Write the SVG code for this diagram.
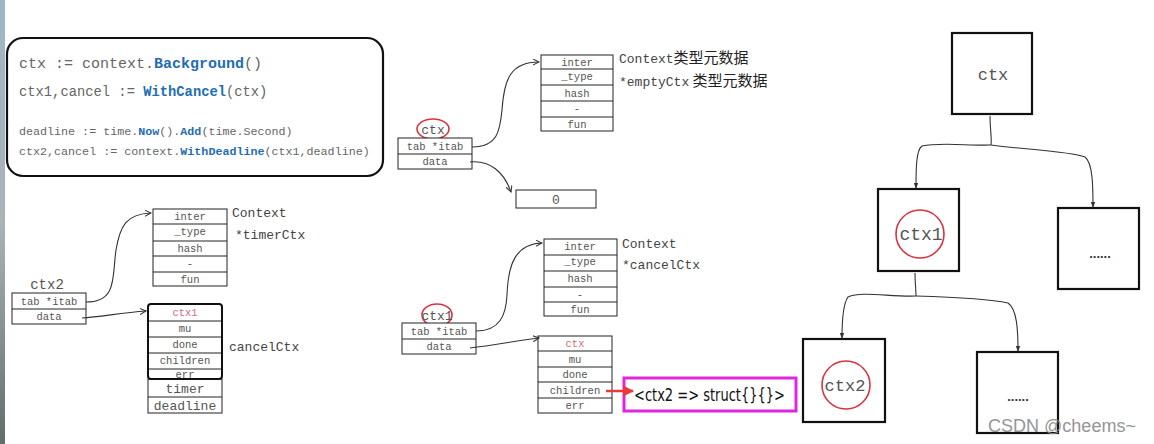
<svg xmlns="http://www.w3.org/2000/svg" width="1154" height="444" viewBox="0 0 1154 444">
<style>
.mono{font-family:"Liberation Mono","DejaVu Sans Mono",monospace;fill:#555}
.code{font-family:"Liberation Mono","DejaVu Sans Mono",monospace;fill:#666}
.kw{fill:#1f6db3;font-weight:bold}
.f{font-family:"Liberation Mono","DejaVu Sans Mono",monospace;fill:#555;font-size:10.5px;text-anchor:middle}
.lbl{font-family:"Liberation Mono","DejaVu Sans Mono",monospace;fill:#444;font-size:13px}
.cjk{font-family:"Noto Sans CJK SC",sans-serif;fill:#222;font-size:15px}
.tbl{fill:#fff;stroke:#222;stroke-width:1}
.div{stroke:#222;stroke-width:1;fill:none}
.conn{fill:none;stroke:#333;stroke-width:1.1}
.box{fill:#fff;stroke:#111;stroke-width:2.2}
.ring{fill:none;stroke:#d8343f;stroke-width:1.6}
.big{font-family:"Liberation Mono","DejaVu Sans Mono",monospace;fill:#555;text-anchor:middle}
.dots{font-family:"Liberation Sans",sans-serif;font-weight:bold;fill:#333;font-size:13px;text-anchor:middle}
</style>
<defs>
<linearGradient id="strip" x1="0" y1="0" x2="0" y2="1">
<stop offset="0" stop-color="#9fb6c6"/>
<stop offset="0.5" stop-color="#a9b4b8"/>
<stop offset="1" stop-color="#5f6f6a"/>
</linearGradient>
<marker id="arr" viewBox="0 0 8 8" refX="7" refY="4" markerWidth="7" markerHeight="7" markerUnits="userSpaceOnUse" orient="auto">
<path d="M0,0.5 L7,4 L0,7.5" fill="none" stroke="#333" stroke-width="1.2"/>
</marker>
<marker id="tri" viewBox="0 0 8 8" refX="7" refY="4" markerWidth="6" markerHeight="6" markerUnits="userSpaceOnUse" orient="auto">
<path d="M0,1 L8,4 L0,7 Z" fill="#333"/>
</marker>
<marker id="red" viewBox="0 0 10 10" refX="9" refY="5" markerWidth="11" markerHeight="11" markerUnits="userSpaceOnUse" orient="auto">
<path d="M0,0 L10,5 L0,10 Z" fill="#e83a3a"/>
</marker>
</defs>
<rect x="0" y="0" width="1154" height="444" fill="#fff"/>
<rect x="0" y="0" width="5" height="444" fill="url(#strip)"/>

<g id="code">
<rect x="7" y="38" width="376" height="138" rx="16" fill="#fff" stroke="#111" stroke-width="2.2"/>
<text class="code" x="19" y="68" font-size="15">ctx := context.<tspan class="kw">Background</tspan>()</text>
<text class="code" x="19" y="96" font-size="13.8">ctx1,cancel := <tspan class="kw">WithCancel</tspan>(ctx)</text>
<text class="code" x="19" y="135" font-size="11.7">deadline := time.<tspan class="kw">Now</tspan>().<tspan class="kw">Add</tspan>(time.Second)</text>
<text class="code" x="19" y="155" font-size="11.7">ctx2,cancel := context.<tspan class="kw">WithDeadline</tspan>(ctx1,deadline)</text>
</g>

<!-- left: ctx2 -->
<g id="ctx2-iface">
<text class="mono" x="47" y="289" font-size="14" text-anchor="middle">ctx2</text>
<rect class="tbl" x="12" y="293" width="74" height="31"/>
<line class="div" x1="12" y1="309" x2="86" y2="309"/>
<text class="f" x="49" y="304.5">tab *itab</text>
<text class="f" x="49" y="320">data</text>
</g>
<g id="timer-itab">
<rect class="tbl" x="153" y="209" width="74" height="77"/>
<path class="div" d="M153,224H227M153,241H227M153,256H227M153,272H227"/>
<text class="f" x="190" y="220">inter</text>
<text class="f" x="190" y="235">_type</text>
<text class="f" x="190" y="252">hash</text>
<text class="f" x="190" y="267">-</text>
<text class="f" x="190" y="283">fun</text>
<text class="lbl" x="232" y="217">Context</text>
<text class="lbl" x="235" y="239">*timerCtx</text>
</g>
<g id="timerCtx">
<rect x="148" y="379" width="74" height="34" class="tbl"/>
<line class="div" x1="148" y1="397" x2="222" y2="397"/>
<text class="big" x="185" y="393" font-size="13">timer</text>
<text class="big" x="185" y="410" font-size="13">deadline</text>
<rect x="148" y="304" width="74" height="75" rx="3" fill="#fff" stroke="#111" stroke-width="2"/>
<path class="div" d="M149,321H221M149,337H221M149,353H221M149,369H221"/>
<text class="f" x="185" y="316" style="fill:#d46a7c">ctx1</text>
<text class="f" x="185" y="332">mu</text>
<text class="f" x="185" y="348">done</text>
<text class="f" x="185" y="364">children</text>
<text class="f" x="185" y="378">err</text>
<text class="lbl" x="229" y="351" font-size="13.5">cancelCtx</text>
</g>

<!-- middle top: ctx -->
<g id="ctx-iface">
<ellipse class="ring" cx="433" cy="129" rx="16" ry="10"/>
<text class="mono" x="433" y="133.5" font-size="13" text-anchor="middle">ctx</text>
<rect class="tbl" x="398" y="138" width="74" height="31"/>
<line class="div" x1="398" y1="154" x2="472" y2="154"/>
<text class="f" x="435" y="149.5">tab *itab</text>
<text class="f" x="435" y="165">data</text>
</g>
<g id="empty-itab">
<rect class="tbl" x="541" y="55" width="72" height="76"/>
<path class="div" d="M541,69H613M541,85H613M541,101H613M541,117H613"/>
<text class="f" x="577" y="65.5">inter</text>
<text class="f" x="577" y="80">_type</text>
<text class="f" x="577" y="96.5">hash</text>
<text class="f" x="577" y="112">-</text>
<text class="f" x="577" y="127.5">fun</text>
<text class="lbl" x="619" y="63">Context<tspan class="cjk">类型元数据</tspan></text>
<text class="lbl" x="619" y="86">*emptyCtx<tspan class="cjk"> 类型元数据</tspan></text>
</g>
<g id="empty-data">
<rect class="tbl" x="516" y="190" width="80" height="18"/>
<text class="mono" x="556" y="204" font-size="13" text-anchor="middle">0</text>
</g>

<!-- middle bottom: ctx1 -->
<g id="ctx1-iface">
<ellipse class="ring" cx="437" cy="315" rx="15" ry="11"/>
<text class="mono" x="437" y="320" font-size="13" text-anchor="middle">ctx1</text>
<rect class="tbl" x="402" y="323" width="74" height="31"/>
<line class="div" x1="402" y1="339" x2="476" y2="339"/>
<text class="f" x="439" y="334.5">tab *itab</text>
<text class="f" x="439" y="350">data</text>
</g>
<g id="cancel-itab">
<rect class="tbl" x="544" y="239" width="73" height="77"/>
<path class="div" d="M544,255H617M544,271H617M544,287H617M544,302H617"/>
<text class="f" x="580" y="250">inter</text>
<text class="f" x="580" y="265">_type</text>
<text class="f" x="580" y="282">hash</text>
<text class="f" x="580" y="297.5">-</text>
<text class="f" x="580" y="312.5">fun</text>
<text class="lbl" x="622" y="248">Context</text>
<text class="lbl" x="622" y="269">*cancelCtx</text>
</g>
<g id="cancelCtx">
<rect class="tbl" x="538" y="336" width="74" height="77"/>
<path class="div" d="M538,351H612M538,367H612M538,382H612M538,398H612"/>
<text class="f" x="575" y="347" style="fill:#d46a7c">ctx</text>
<text class="f" x="575" y="362.5">mu</text>
<text class="f" x="575" y="378">done</text>
<text class="f" x="575" y="393.5">children</text>
<text class="f" x="575" y="409">err</text>
</g>
<g id="children-map">
<rect x="624" y="378" width="172" height="33" fill="#fff" stroke="#e024e0" stroke-width="3"/>
<text x="634" y="401" font-family="DejaVu Sans Condensed, DejaVu Sans, sans-serif" font-size="17" fill="#111" textLength="151" lengthAdjust="spacingAndGlyphs">&lt;ctx2 =&gt; struct{}{}&gt;</text>
</g>

<!-- tree -->
<g id="tree-ctx">
<rect class="box" x="952" y="33" width="80" height="81"/>
<text class="big" x="993" y="80" font-size="17">ctx</text>
</g>
<g id="tree-ctx1">
<rect class="box" x="878" y="189" width="81" height="82"/>
<circle class="ring" cx="920" cy="234" r="24"/>
<text class="big" x="921" y="240" font-size="18">ctx1</text>
</g>
<g id="tree-more1">
<rect class="box" x="1058" y="208" width="81" height="81"/>
<text class="dots" x="1100" y="258">......</text>
</g>
<g id="tree-ctx2">
<rect class="box" x="803" y="339" width="82" height="83"/>
<circle class="ring" cx="846" cy="385" r="24"/>
<text class="big" x="845" y="391" font-size="17">ctx2</text>
</g>
<g id="tree-more2">
<rect class="box" x="977" y="352" width="81" height="81"/>
<text class="dots" x="1018" y="401">......</text>
</g>

<g id="connectors">
<path class="conn" d="M86,302 C118,302 112,276 116,250 C120,226 126,214 151,213" marker-end="url(#arr)"/>
<path class="conn" d="M82,318 C100,317 120,313 146,311" marker-end="url(#arr)"/>
<path class="conn" d="M472,147 C498,147 500,130 502,110 C504,80 510,62 539,62" marker-end="url(#arr)"/>
<path class="conn" d="M470,162 C490,160 504,172 511,192" marker-end="url(#arr)"/>
<path class="conn" d="M476,331 C500,331 506,315 507,295 C508,265 515,244 542,243" marker-end="url(#arr)"/>
<path class="conn" d="M470,348 C495,345 515,341 539,338" marker-end="url(#arr)"/>
<path d="M606,391 L633,391" stroke="#e83a3a" stroke-width="2.5" fill="none" marker-end="url(#red)"/>
<path class="conn" d="M990,116 C990,130 992,138 991,145"/>
<path class="conn" d="M991,145 C970,146 940,142 922,146 C916,150 916,170 916,188" marker-end="url(#tri)"/>
<path class="conn" d="M991,145 C1030,150 1068,151 1085,157 C1093,163 1093,188 1093,207" marker-end="url(#tri)"/>
<path class="conn" d="M915,273 C915,282 916,290 916,296"/>
<path class="conn" d="M916,296 C890,297 862,291 848,297 C843,304 842,322 842,338" marker-end="url(#tri)"/>
<path class="conn" d="M916,296 C950,297 990,299 1008,303 C1017,309 1018,330 1018,351" marker-end="url(#tri)"/>
</g>

<text x="1062" y="432" font-family="Liberation Sans, sans-serif" font-size="18" fill="#8a8a8a" text-anchor="middle" opacity="0.9">CSDN @cheems~</text>
</svg>
